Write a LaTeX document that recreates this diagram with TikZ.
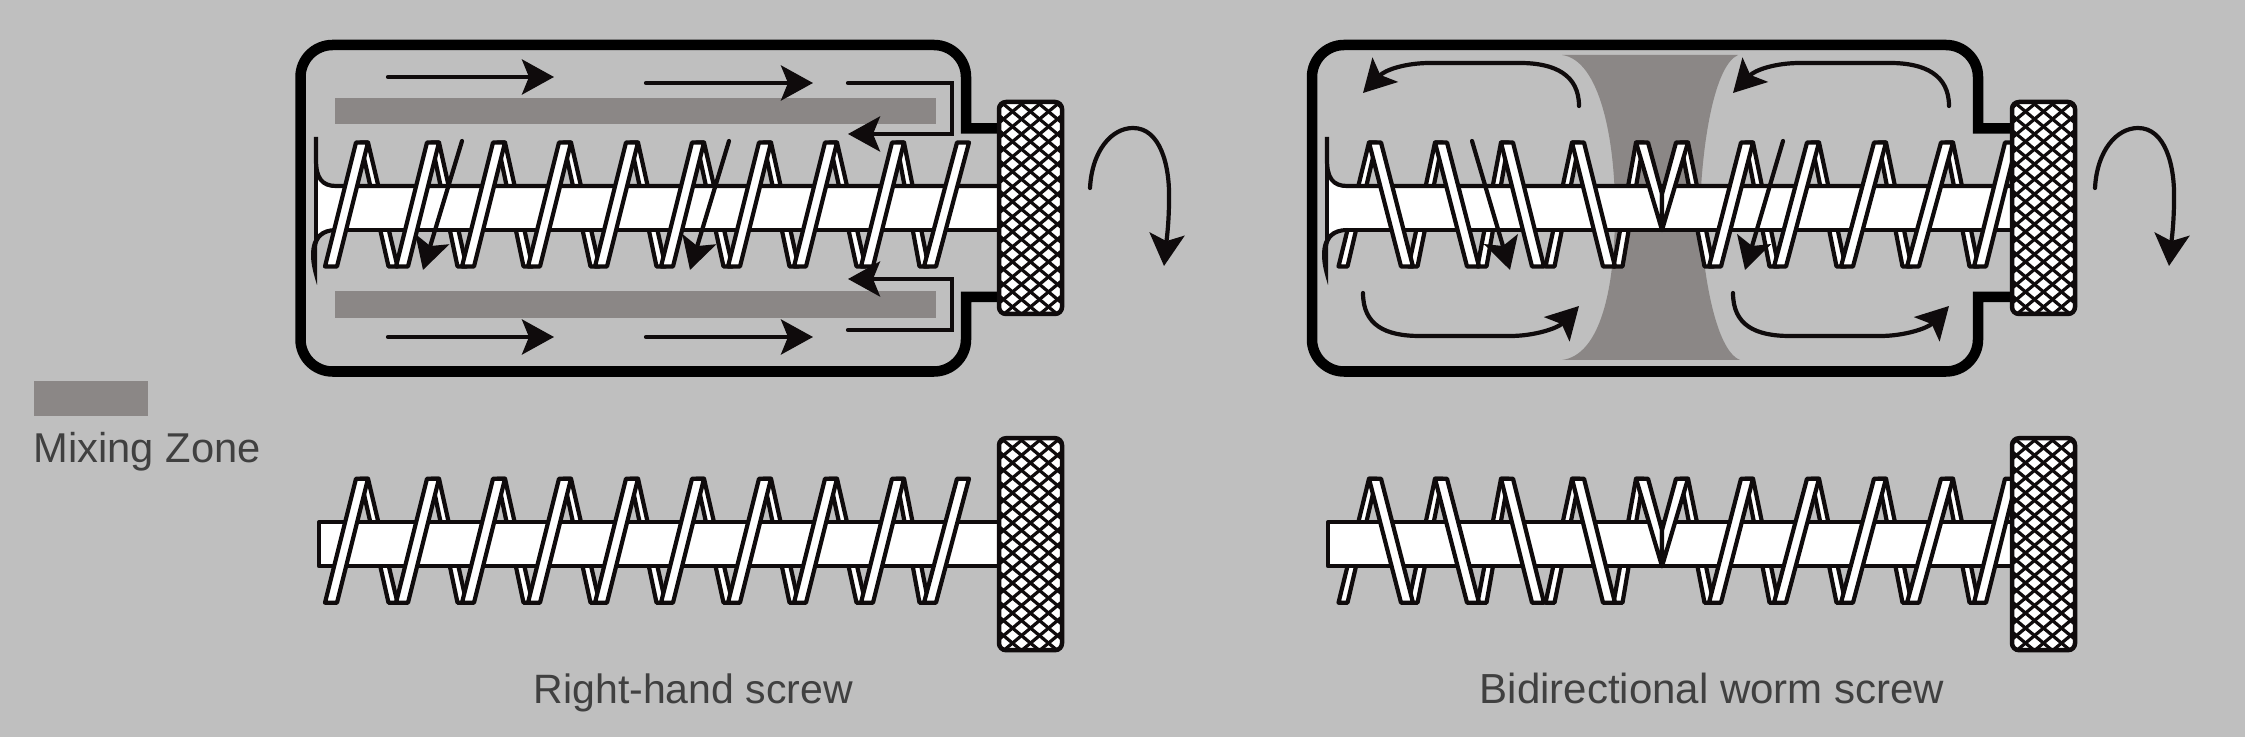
\documentclass[tikz,border=0pt]{standalone}
\usepackage{fontspec}
\setmainfont{Liberation Sans}
\usetikzlibrary{arrows.meta}
\definecolor{bgray}{HTML}{BFBFBF}
\definecolor{zonegray}{HTML}{8B8786}
\definecolor{textgray}{HTML}{404040}
\definecolor{ink}{HTML}{0F0B0C}
% one strip of the thread: top left, top right, bottom left, bottom right
\newcommand{\strip}[4]{\filldraw[flight] (#1,142.5) -- (#2,142.5) -- (#4,266.5) -- (#3,266.5) -- cycle;}
\newcommand{\plainshaft}[2]{\filldraw[flight] (#1,186) rectangle (#2,230);}
% shaft with its flared left end, in the casing
\newcommand{\flaredshaft}[2]{
	\fill[white] (#1,160) .. controls (#1,178) and (#1+6,186) .. (#1+20,186) -- (#2,186) -- (#2,230) -- (#1+20,230) .. controls (#1+8,230) and (#1,234) .. (#1,240) -- cycle;
	\draw[edge] (#1,137) -- (#1,160) .. controls (#1,178) and (#1+6,186) .. (#1+20,186) -- (#2,186);
	\draw[edge] (#1,137) -- (#1,240);
	\draw[edge] (#1+20,230) -- (#2,230);
	\fill[ink] (#1+20,228) .. controls (#1+6,228) and (#1-5,235) .. (#1-5,255) .. controls (#1-5,265) and (#1-2,275) .. (#1+1,285) .. controls (#1+1,270) and (#1+1,255) .. (#1+1,248) .. controls (#1+1,238) and (#1+9,232) .. (#1+20,232) -- cycle;
}
\newcommand{\rightback}{
	\foreach \tx/\bx in {362/393,433/462,499/528,565/595,632/661,698/728,765/794,831/861,898/924}
		{\strip{\tx-1.5}{\tx+6}{\bx-4.5}{\bx+4.5}}
}
\newcommand{\rightfront}{
	\foreach \tx/\bx in {362/331,433/402,499/468,565/534,632/601,698/667,765/734,831/800,898/867,963/930}
		{\strip{\tx-6}{\tx+6}{\bx-6}{\bx+6}}
}
\newcommand{\wormback}{
	\foreach \tx/\bx in {1375/1343,1441/1413,1507/1482,1578/1550,1642/1618}
		{\strip{\tx-6}{\tx+1.5}{\bx-4.5}{\bx+4.5}}
	\foreach \tx/\bx in {1682/1709,1747/1774,1813/1841,1880/1907,1947/1974}
		{\strip{\tx-1.5}{\tx+6}{\bx-4.5}{\bx+4.5}}
}
\newcommand{\wormfront}{
	\foreach \tx/\bx in {1375/1407,1441/1473,1507/1538,1578/1609}
		{\strip{\tx-6}{\tx+6}{\bx-6}{\bx+6}}
	\foreach \tx/\bx in {1747/1715,1813/1780,1880/1847,1947/1913,2011/1980}
		{\strip{\tx-6}{\tx+6}{\bx-6}{\bx+6}}
	% the two strips that meet in the V
	\filldraw[flight] (1636,142.5) -- (1648,142.5) -- (1662,194) -- (1662,230) -- cycle;
	\filldraw[flight] (1688,142.5) -- (1676,142.5) -- (1662,194) -- (1662,230) -- cycle;
}
% knob at left edge #1
\newcommand{\knob}[1]{
	\begin{scope}
		\clip[rounded corners=0.07cm] (#1,102) rectangle (#1+63,314);
		\fill[white] (#1,102) rectangle (#1+63,314);
		\foreach \i in {-15,...,4}{
			\draw[hatch] (#1+18*\i+2,102) -- (#1+18*\i+256,314);
			\draw[hatch] (#1+61-18*\i,102) -- (#1-193-18*\i,314);
		}
	\end{scope}
	\draw[rim] (#1,102) rectangle (#1+63,314);
}
\newcommand{\casing}[2]{
	\draw[wall] (#2+33,128.5) -- (#2,128.5) [rounded corners=0.32cm] -- (#2,45) -- (#1,45) -- (#1,371.5) -- (#2,371.5) [sharp corners] -- (#2,297) -- (#2+33,297);
}
\begin{document}
\begin{tikzpicture}
	[x=0.01cm,y=-0.01cm,>={Stealth[length=0.32cm,width=0.35cm,inset=0.07cm]},
	edge/.style={draw=ink,line width=0.042cm,line join=round},
	flight/.style={edge,fill=white},
	hatch/.style={draw=ink,line width=0.032cm},
	rim/.style={draw=ink,line width=0.045cm,rounded corners=0.07cm},
	wall/.style={draw=black,line width=0.105cm},
	zone/.style={fill=zonegray},
	flow/.style={->,draw=ink,line width=0.042cm,line cap=round,line join=miter},
	label/.style={anchor=base west,inner sep=0pt,text=textgray,font=\fontsize{11.66pt}{14pt}\selectfont}]
	\fill[bgray] (0,0) rectangle (2245,737);
	\useasboundingbox (0,0) rectangle (2245,737);
	% right-hand screw in its casing
	\casing{300.5}{966}
	\fill[zone] (335,98) rectangle (936,124);
	\fill[zone] (335,291) rectangle (936,318);
	\rightback
	\flaredshaft{316}{999}
	\rightfront
	\knob{999}
	\draw[flow] (388,77) -- (554,77);
	\draw[flow] (646,83) -- (813,83);
	\draw[flow] (848,83) -- (952,83) -- (952,134) -- (848,134);
	\draw[flow] (388,337) -- (554,337);
	\draw[flow] (646,337) -- (813,337);
	\draw[flow] (848,330) -- (952,330) -- (952,279) -- (848,279);
	\draw[flow] (462,141) -- (423,270);
	\draw[flow] (729,141) -- (690,270);
	\draw[flow] (1090,188) .. controls (1092,150) and (1112,128) .. (1133,128) .. controls (1160,128) and (1170,165) .. (1169,200) .. controls (1169,225) and (1166,245) .. (1164,266);
	% bidirectional screw in its casing
	\casing{1312}{1978}
	\fill[zone] (1562,55) .. controls (1600,60) and (1615,140) .. (1615,210) .. controls (1615,290) and (1600,355) .. (1562,360) -- (1740,360) .. controls (1715,350) and (1702,270) .. (1700,210) .. controls (1702,140) and (1715,65) .. (1738,55) -- cycle;
	\wormback
	\flaredshaft{1327}{2012}
	\wormfront
	\knob{2012}
	\foreach \dx in {0,370}{
		\draw[flow] (1579+\dx,106) .. controls (1579+\dx,75) and (1555+\dx,63) .. (1520+\dx,63) -- (1430+\dx,63) .. controls (1405+\dx,63) and (1385+\dx,70) .. (1363+\dx,93);
		\draw[flow] (1363+\dx,293) .. controls (1363+\dx,325) and (1385+\dx,336) .. (1420+\dx,336) -- (1510+\dx,336) .. controls (1535+\dx,336) and (1558+\dx,328) .. (1579+\dx,306);
	}
	\draw[flow] (1472,141) -- (1510,270);
	\draw[flow] (1783,141) -- (1745,270);
	\draw[flow] (2095,188) .. controls (2097,150) and (2117,128) .. (2138,128) .. controls (2165,128) and (2175,165) .. (2174,200) .. controls (2174,225) and (2171,245) .. (2169,266);
	% the two bare screws below
	\begin{scope}[yshift=-3.36cm]
		\rightback
		\plainshaft{319}{999}
		\rightfront
		\knob{999}
		\wormback
		\plainshaft{1328}{2012}
		\wormfront
		\knob{2012}
	\end{scope}
	% legend and captions
	\fill[zone] (34,381) rectangle (148,416);
	\node[label,font=\fontsize{11.85pt}{14pt}\selectfont] (legend) at (33,463) {Mixing Zone};
	\node[label] (righthand) at (533,703) {Right-hand screw};
	\node[label,font=\fontsize{11.95pt}{14pt}\selectfont] (worm) at (1479,703) {Bidirectional worm screw};
\end{tikzpicture}
\end{document}
